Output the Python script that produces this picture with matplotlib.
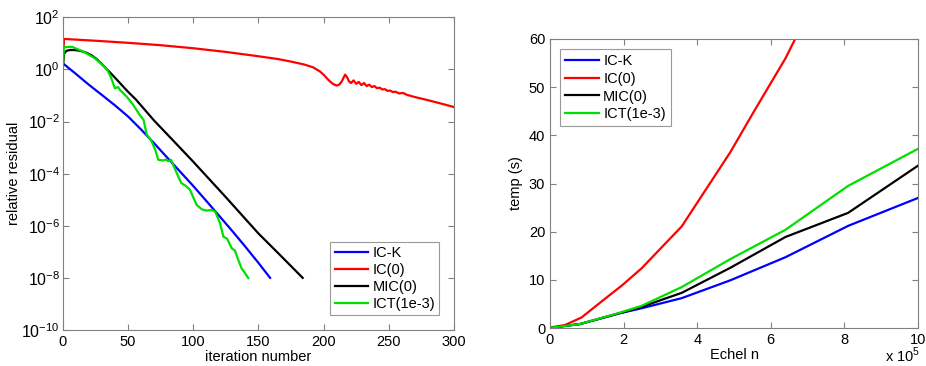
import numpy as np
import matplotlib
matplotlib.use("Agg")
import matplotlib.pyplot as plt
from matplotlib.ticker import FixedLocator, FixedFormatter

plt.rcParams['font.family'] = ['Liberation Sans', 'DejaVu Sans']
plt.rcParams['mathtext.fontset'] = 'custom'
plt.rcParams['mathtext.rm'] = 'Liberation Sans'

labels = ['IC-K', 'IC(0)', 'MIC(0)', 'ICT(1e-3)']
colors = ['#0000ff', '#ff0000', '#000000', '#00e000']

# ---- left panel: relative residual vs iteration ----
ick_it = [0, 10, 20, 30, 40, 50, 60, 70, 80, 90, 100, 110, 120, 130, 140, 150, 159]
ick_res = [1.74, 0.68, 0.26, 0.105, 0.042, 0.0158, 5.0e-3, 1.48e-3, 4.2e-4, 1.2e-4, 3.4e-5,
           9.1e-6, 2.4e-6, 6.3e-7, 1.58e-7, 3.8e-8, 1.0e-8]

ic0_it = [0, 1, 25, 50, 75, 100, 125, 150, 165, 175, 185, 192, 197, 200, 204, 207, 210, 212, 214,
          216.5, 218, 219.5, 221, 223, 225, 227, 229, 231, 233, 235, 237, 239, 241, 243, 245,
          247, 249, 251, 253, 255, 258, 261, 264, 270, 280, 290, 300]
ic0_res = [1.0, 14.8, 12.6, 10.5, 8.5, 6.5, 4.7, 3.2, 2.5, 2.0, 1.55, 1.2, 0.85, 0.63, 0.38,
           0.28, 0.24, 0.26, 0.35, 0.63, 0.50, 0.35, 0.30, 0.38, 0.28, 0.33, 0.25, 0.30, 0.23,
           0.26, 0.21, 0.23, 0.19, 0.20, 0.17, 0.175, 0.15, 0.155, 0.135, 0.14, 0.12, 0.125,
           0.105, 0.087, 0.066, 0.049, 0.036]

mic_it = [0, 1, 3, 6, 10, 14, 18, 22, 26, 30, 34, 38, 42, 46, 50, 56, 63, 70, 85, 100, 125,
          150, 165, 184]
mic_res = [1.0, 4.0, 5.2, 5.6, 5.5, 5.1, 4.4, 3.5, 2.5, 1.6, 1.0, 0.62, 0.38, 0.23, 0.14,
           0.071, 0.028, 0.011, 1.8e-3, 2.9e-4, 1.26e-5, 5.1e-7, 9.1e-8, 1.0e-8]

ict_it = [0, 1, 7, 16, 24, 29, 34, 37, 40, 42.5, 44, 49, 54, 59, 62, 64.4, 68, 71, 73.3, 77,
          79, 81, 83, 85, 88.6, 91, 94, 97.6, 100, 102.7, 106.6, 110, 113, 115.6, 117, 120.6,
          123.2, 126, 129.6, 132, 134.6, 137.2, 139.5, 142.3]
ict_res = [1.0, 7.1, 7.4, 4.8, 2.8, 1.74, 1.0, 0.50, 0.19, 0.21, 0.16, 0.091, 0.044, 0.018,
           0.0115, 3.2e-3, 1.8e-3, 8.1e-4, 3.4e-4, 3.2e-4, 3.5e-4, 3.0e-4, 3.4e-4, 2.0e-4,
           7.8e-5, 4.3e-5, 3.5e-5, 2.4e-5, 1.26e-5, 6.3e-6, 4.3e-6, 3.8e-6, 4.0e-6, 3.8e-6,
           3.4e-6, 1.26e-6, 3.8e-7, 3.2e-7, 1.38e-7, 1.12e-7, 4.9e-8, 2.3e-8, 1.6e-8, 9.8e-9]

left_xticks = [0, 50, 100, 150, 200, 250, 300]
left_yticks = [1e-10, 1e-8, 1e-6, 1e-4, 1e-2, 1e0, 1e2]
left_ylabels = ['$10^{-10}$', '$10^{-8}$', '$10^{-6}$', '$10^{-4}$', '$10^{-2}$', '$10^{0}$', '$10^{2}$']

# ---- right panel: time vs n ----
n_ick = [0.07, 0.82, 1.86, 2.49, 3.58, 4.9, 6.4, 8.1, 10.0]
t_ick = [0.1, 0.83, 3.0, 4.1, 6.2, 9.9, 14.7, 21.2, 27.0]
n_ic0 = [0.09, 0.41, 0.86, 1.45, 1.95, 2.49, 3.58, 4.9, 5.53, 6.4, 8.1]
t_ic0 = [0.2, 0.62, 2.2, 5.8, 8.8, 12.4, 21.1, 36.5, 44.8, 56.0, 82.0]
n_mic = [0.07, 0.82, 1.86, 2.49, 3.58, 4.9, 6.4, 8.1, 10.0]
t_mic = [0.1, 0.83, 3.0, 4.4, 7.3, 12.5, 18.9, 23.9, 33.7]
n_ict = [0.07, 0.82, 1.86, 2.49, 3.58, 4.9, 6.4, 8.1, 10.0]
t_ict = [0.1, 0.83, 3.1, 4.6, 8.5, 14.3, 20.4, 29.5, 37.2]

right_xticks = [0, 2, 4, 6, 8, 10]
right_yticks = [0, 10, 20, 30, 40, 50, 60]

fig = plt.figure(figsize=(9.26, 3.66), dpi=100)
fs = 10.5
lw = 1.6
spine_col = '#808080'

def style(ax):
    for s in ax.spines.values():
        s.set_color(spine_col)
        s.set_linewidth(0.8)
    ax.tick_params(which='both', direction='in', top=True, right=True, color=spine_col,
                   labelsize=fs, length=4, width=0.8, labelcolor='black')
    ax.tick_params(which='minor', length=0)

ax1 = fig.add_axes([62.7/926, 1-330/366, (454-62.7)/926, (330-17.3)/366])
ax1.semilogy(ick_it, ick_res, color=colors[0], lw=lw, label=labels[0])
ax1.semilogy(ic0_it, ic0_res, color=colors[1], lw=lw, label=labels[1])
ax1.semilogy(mic_it, mic_res, color=colors[2], lw=lw, label=labels[2])
ax1.semilogy(ict_it, ict_res, color=colors[3], lw=lw, label=labels[3])
ax1.set_xlim(0, 300)
ax1.set_ylim(1e-10, 1e2)
ax1.xaxis.set_major_locator(FixedLocator(left_xticks))
ax1.yaxis.set_major_locator(FixedLocator(left_yticks))
ax1.yaxis.set_major_formatter(FixedFormatter(left_ylabels))
ax1.yaxis.set_minor_locator(FixedLocator([]))
style(ax1)
ax1.tick_params(axis='y', labelsize=11.5, pad=2)
ax1.set_xlabel('iteration number', fontsize=fs, labelpad=1)
ax1.set_ylabel('relative residual', fontsize=fs, labelpad=0)
leg1 = ax1.legend(loc='lower right', fontsize=fs, frameon=True, fancybox=False,
                  edgecolor=spine_col, handlelength=2.3, handletextpad=0.3,
                  borderpad=0.3, labelspacing=0.2, borderaxespad=1.0)
leg1.get_frame().set_linewidth(0.8)

ax2 = fig.add_axes([550/926, 1-328/366, (918-550)/926, (328-39)/366])
ax2.plot(n_ick, t_ick, color=colors[0], lw=lw, label=labels[0])
ax2.plot(n_ic0, t_ic0, color=colors[1], lw=lw, label=labels[1])
ax2.plot(n_mic, t_mic, color=colors[2], lw=lw, label=labels[2])
ax2.plot(n_ict, t_ict, color=colors[3], lw=lw, label=labels[3])
ax2.set_xlim(0, 10)
ax2.set_ylim(0, 60)
ax2.set_xticks(right_xticks)
ax2.set_yticks(right_yticks)
style(ax2)
ax2.set_xlabel('Echel n', fontsize=fs, labelpad=1)
ax2.set_ylabel('temp (s)', fontsize=fs, labelpad=4)
leg2 = ax2.legend(loc='upper left', fontsize=fs, frameon=True, fancybox=False,
                  edgecolor=spine_col, handlelength=2.3, handletextpad=0.3,
                  borderpad=0.35, labelspacing=0.25, borderaxespad=0.7)
leg2.get_frame().set_linewidth(0.8)
fig.text(885/926, 1/366, r'x $10^{5}$', fontsize=fs, ha='left', va='bottom')

fig.savefig('out.png', dpi=100)
